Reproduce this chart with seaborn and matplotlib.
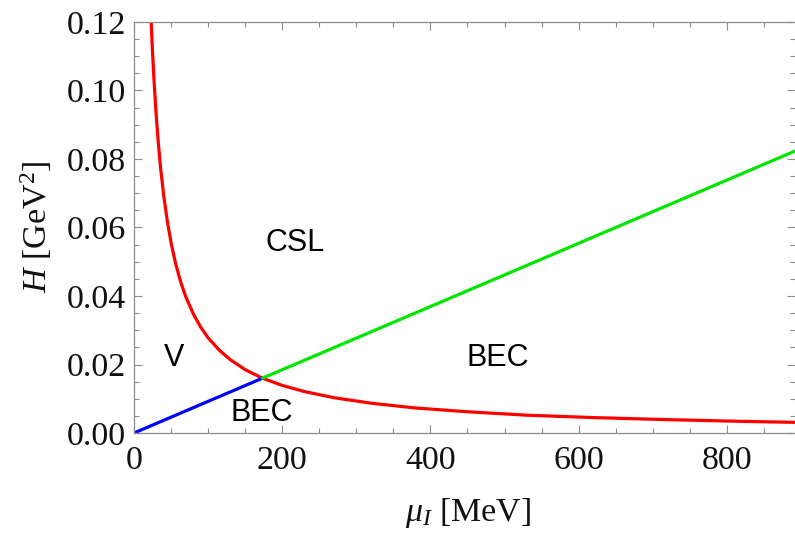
import matplotlib
matplotlib.use("Agg")
import matplotlib.pyplot as plt
from matplotlib.ticker import MultipleLocator, FormatStrFormatter
import seaborn as sns

# Phase boundaries in the (mu_I, H) plane
# vortex / CSL boundary (red)
boundary_mu = [22.0, 23.2, 25, 27, 30, 33, 36, 40, 45, 50, 56, 63, 70, 80, 90,
               100, 115, 130, 150, 173.3, 200, 230, 270, 320, 380, 450, 530,
               620, 720, 820, 895]
boundary_H = [0.1264, 0.1198, 0.1112, 0.1030, 0.0927, 0.0842, 0.0772, 0.0695,
              0.0618, 0.0556, 0.0496, 0.0441, 0.0397, 0.0348, 0.0309, 0.0278,
              0.0242, 0.0214, 0.0185, 0.0160, 0.0139, 0.0121, 0.0103, 0.0087,
              0.0073, 0.0062, 0.0052, 0.0045, 0.0039, 0.0034, 0.0031]

# BEC / vortex boundary below the triple point (blue)
bec_low_mu = [0.0, 173.3]
bec_low_H = [0.0, 0.0160]

# BEC / CSL boundary above the triple point (green)
bec_csl_mu = [173.3, 895.0]
bec_csl_H = [0.0160, 0.0826]

# Region labels
region_names = ["CSL", "V", "BEC", "BEC"]
region_mu = [218, 54, 491, 172]
region_H = [0.0555, 0.0219, 0.0220, 0.0058]

x_ticks = [0, 200, 400, 600, 800]
y_ticks = [0.00, 0.02, 0.04, 0.06, 0.08, 0.10, 0.12]

sns.set_theme(style="ticks")
plt.rcParams["font.family"] = ["Liberation Serif", "DejaVu Serif"]
plt.rcParams["mathtext.fontset"] = "custom"
plt.rcParams["mathtext.rm"] = "Liberation Serif"
plt.rcParams["mathtext.it"] = "Liberation Serif:italic"

fig = plt.figure(figsize=(7.95, 5.38), dpi=100)
ax = fig.add_axes([134 / 795, 105 / 538, 661 / 795, 411 / 538])

lw = 2.3
sns.lineplot(x=boundary_mu, y=boundary_H, color="#ff0000", lw=lw, ax=ax,
             sort=False, estimator=None)
sns.lineplot(x=bec_low_mu, y=bec_low_H, color="#0000ff", lw=lw, ax=ax,
             sort=False, estimator=None)
sns.lineplot(x=bec_csl_mu, y=bec_csl_H, color="#00e600", lw=lw, ax=ax,
             sort=False, estimator=None)

for name, mx, hy in zip(region_names, region_mu, region_H):
    ax.text(mx, hy, name, ha="center", va="center", fontsize=22,
            family=["Liberation Sans", "DejaVu Sans"], color="black")

ax.set_xlim(0, 892)
ax.set_ylim(0, 0.12)
ax.set_xticks(x_ticks)
ax.set_yticks(y_ticks)
ax.xaxis.set_minor_locator(MultipleLocator(50))
ax.yaxis.set_minor_locator(MultipleLocator(0.005))
ax.yaxis.set_major_formatter(FormatStrFormatter("%.2f"))

frame_color = "#8c8c8c"
for side in ["left", "bottom", "top"]:
    ax.spines[side].set_color(frame_color)
    ax.spines[side].set_linewidth(0.9)
ax.spines["right"].set_visible(False)

ax.tick_params(which="both", direction="in", color=frame_color, width=0.8,
               top=True, right=True, labelsize=24.5, labelcolor="#111111")
ax.tick_params(which="major", length=6)
ax.tick_params(which="minor", length=3.5)
ax.tick_params(axis="x", pad=9)
ax.tick_params(axis="y", pad=6)

ax.set_xlabel(r"$\mu_I$ [MeV]", fontsize=24.5, color="#111111")
ax.set_ylabel(r"$H$ [GeV$^2$]", fontsize=24.5, color="#111111")
ax.xaxis.set_label_coords((468 - 134) / 661, (433 - 513) / 411)
ax.xaxis.label.set_va("center")
ax.yaxis.set_label_coords((36 - 134) / 661, (433 - 227) / 411)
ax.yaxis.label.set_va("center")

fig.savefig("out.png", dpi=100)
